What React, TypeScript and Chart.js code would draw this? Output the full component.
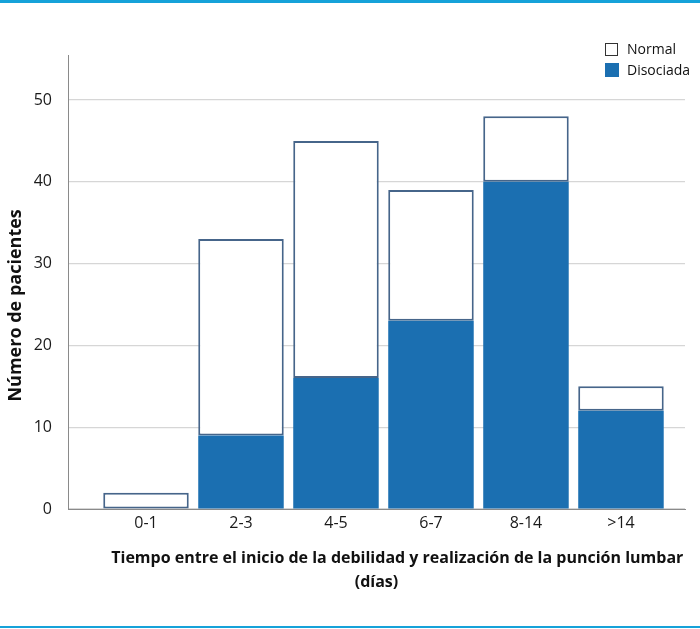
import React, { useEffect, useRef } from "react";
import { Chart, registerables } from "chart.js";

Chart.register(...registerables);

const categories = ["0-1", "2-3", "4-5", "6-7", "8-14", ">14"];
const disociada = [0, 9, 16, 23, 40, 12];
const normal = [2, 24, 29, 16, 8, 3];
const yTicks = [0, 10, 20, 30, 40, 50];
const xTitle = ["          Tiempo entre el inicio de la debilidad y realización de la punción lumbar", "(días)"];
const yTitle = "Número de pacientes          ";

const BLUE = "#1b6fb1";
const FONT = "'Open Sans', Lato, sans-serif";

export default function App() {
  const ref = useRef<HTMLCanvasElement | null>(null);

  useEffect(() => {
    if (!ref.current) return;
    const chart = new Chart(ref.current, {
      type: "bar",
      data: {
        datasets: [
          {
            label: "Disociada",
            data: disociada.map((v, i) => ({ x: i, y: v })),
            backgroundColor: BLUE,
            borderWidth: 0,
            categoryPercentage: 1,
            barPercentage: 0.9,
          },
          {
            label: "Normal",
            data: normal.map((v, i) => ({ x: i, y: v })),
            backgroundColor: "#ffffff",
            borderColor: "#46658a",
            borderWidth: 2,
            borderSkipped: false,
            categoryPercentage: 1,
            barPercentage: 0.9,
          },
        ],
      },
      options: {
        responsive: false,
        animation: false,
        layout: { padding: { top: 55, right: 15, left: 0, bottom: 0 } },
        plugins: { legend: { display: false }, tooltip: { enabled: false } },
        scales: {
          x: {
            type: "linear",
            offset: false,
            stacked: true,
            min: -0.821,
            max: 5.674,
            grid: { display: false, drawTicks: false, offset: false },
            border: { display: true, color: "#8a8a8a", width: 1 },
            afterBuildTicks: (scale: any) => {
              scale.ticks = categories.map((_, i) => ({ value: i }));
            },
            afterFit: (scale: any) => {
              scale.height = 120;
            },
            ticks: {
              autoSkip: false,
              maxRotation: 0,
              padding: 5,
              color: "#1a1a1a",
              font: { family: FONT, size: 16 },
              callback: (v: any) => categories[v as number] ?? "",
            },
            title: {
              display: true,
              text: xTitle,
              color: "#111111",
              font: { family: FONT, size: 16, weight: "bold", lineHeight: 1.5 },
              padding: { top: 0, bottom: 35 },
            },
          },
          y: {
            stacked: true,
            min: 0,
            max: 55.5,
            grid: { color: "#d6d6d6", drawTicks: false, lineWidth: 1.2 },
            border: { display: true, color: "#8a8a8a", width: 1 },
            afterBuildTicks: (scale: any) => {
              scale.ticks = yTicks.map((v) => ({ value: v }));
            },
            afterFit: (scale: any) => {
              scale.width = 68;
            },
            ticks: {
              padding: 16,
              color: "#1a1a1a",
              font: { family: FONT, size: 16 },
            },
            title: {
              display: true,
              text: yTitle,
              color: "#111111",
              font: { family: FONT, size: 18, weight: "bold", lineHeight: 1.2 },
              padding: { top: 5, bottom: 0 },
            },
          },
        },
      },
    });
    return () => chart.destroy();
  }, []);

  return (
    <div style={{ position: "absolute", left: 0, top: 0, width: 700, height: 629, background: "#fff", overflow: "hidden" }}>
      <div style={{ position: "absolute", left: 0, top: 0, width: 700, height: 3, background: "#16a2d9" }} />
      <div style={{ position: "absolute", left: 0, top: 626, width: 700, height: 2, background: "#16a2d9" }} />
      <canvas ref={ref} width={700} height={629} style={{ position: "absolute", left: 0, top: 0 }} />
      <div style={{ position: "absolute", left: 605, top: 43, width: 11, height: 11, border: "1.5px solid #333", background: "#fff" }} />
      <div style={{ position: "absolute", left: 627, top: 40, fontFamily: FONT, fontSize: 14, color: "#111", lineHeight: "18px" }}>Normal</div>
      <div style={{ position: "absolute", left: 605, top: 63, width: 14, height: 14, background: BLUE }} />
      <div style={{ position: "absolute", left: 627, top: 61, fontFamily: FONT, fontSize: 14, color: "#111", lineHeight: "18px" }}>Disociada</div>
    </div>
  );
}
